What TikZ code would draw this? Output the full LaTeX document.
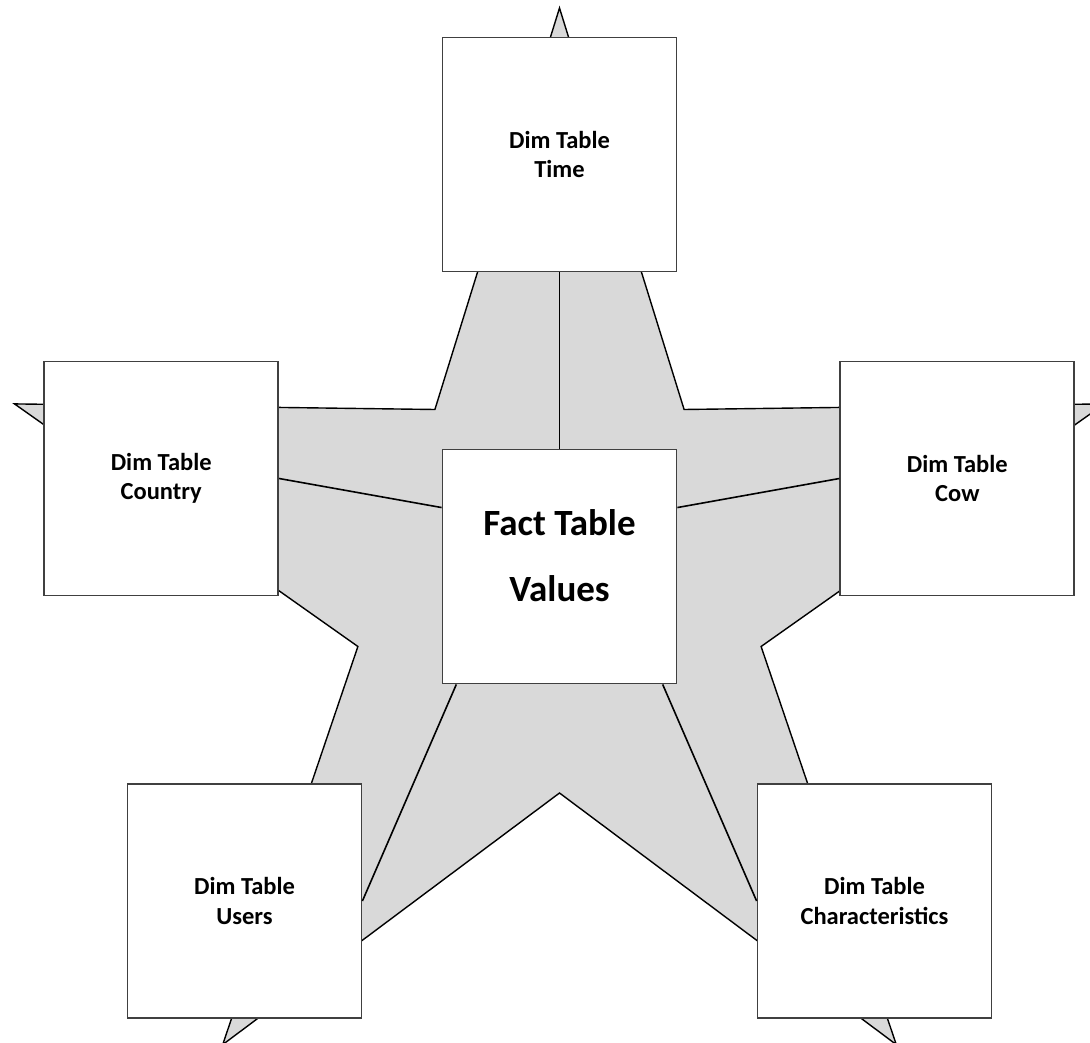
\documentclass[tikz,border=0pt]{standalone}
\usepackage{fontspec}
\setmainfont{Carlito}
\usetikzlibrary{calc}
\definecolor{stargray}{HTML}{D9D9D9}
\definecolor{boxline}{HTML}{404040}
\tikzset{
  dimbox/.style={draw=boxline, line width=1.8pt, fill=white, minimum width=234pt, minimum height=234pt, inner sep=0pt, align=center, font=\bfseries\fontsize{24.5}{29.5}\selectfont},
  factbox/.style={draw=boxline, line width=1.8pt, fill=white, minimum width=234pt, minimum height=234pt, inner sep=0pt},
  facttext/.style={align=center, inner sep=0pt, font=\bfseries\fontsize{37}{66}\selectfont},
  link/.style={draw=black, line width=1.6pt},
  starshape/.style={draw=black, line width=1.4pt, fill=stargray, line join=miter}
}
\begin{document}
\begin{tikzpicture}[x=1pt, y=-1pt]
\useasboundingbox (0,0) rectangle (1090,1043);
\begin{scope}
\clip (0,0) rectangle (1090,1043);
\fill[white] (0,0) rectangle (1090,1043);
% star
\draw[starshape] (559.5,8) -- (684.1,409.5) -- (1104.5,403.9) -- (761.1,646.5) -- (896.3,1044.6) -- (559.5,793) -- (222.7,1044.6) -- (357.9,646.5) -- (14.5,403.9) -- (434.9,409.5) -- cycle;
% boxes
\node[factbox]  (fact)    at (559.5,566.5) {};
\node[facttext] (factlbl) at (559.5,556) {Fact Table\\Values};
\node[dimbox]   (time)    at (559.5,154.5) {Dim Table\\Time};
\node[dimbox]   (country) at (161.2,478.5) {Dim Table\\Country};
\node[dimbox]   (cow)     at (957.3,478.5) {Dim Table\\Cow};
\node[dimbox]   (users)   at (244.5,901)   {Dim Table\\Users};
\node[dimbox]   (charac)  at (874.5,901)   {Dim Table\\Characteristics};
% connectors
\draw[link] (time.south) -- (fact.north);
\draw[link] (country.east) -- ($(fact.north west)!0.25!(fact.south west)$);
\draw[link] (cow.west) -- ($(fact.north east)!0.25!(fact.south east)$);
\draw[link] ($(fact.south west)!0.0625!(fact.south east)$) -- (users.east);
\draw[link] ($(fact.south east)!0.0625!(fact.south west)$) -- (charac.west);
\end{scope}
\end{tikzpicture}
\end{document}
